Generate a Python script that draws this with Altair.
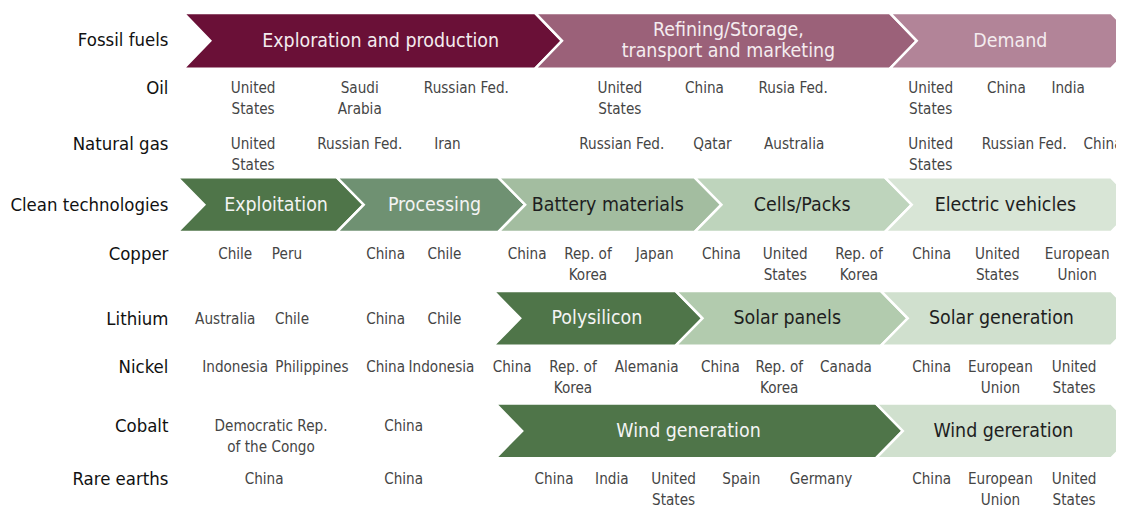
import altair as alt
import pandas as pd

# ---------------- data ----------------
row_names = ["Fossil fuels", "Oil", "Natural gas", "Clean technologies", "Copper",
             "Lithium", "Nickel", "Cobalt", "Rare earths"]
row_y = [39, 87, 144, 205, 254, 319, 367, 427, 480]

# value chains (stage names, stage boundaries along x, colours)
fossil_stages = ["Exploration and production", "Refining/Storage,\ntransport and marketing", "Demand"]
fossil_bounds = [184, 537, 893, 1115]
fossil_label_x = [382, 731, 1014]
fossil_fill = ["#6a1037", "#9b6179", "#b28498"]
fossil_text = ["#f4ecef", "#f4ecef", "#f4ecef"]

clean_stages = ["Exploitation", "Processing", "Battery materials", "Cells/Packs", "Electric vehicles"]
clean_bounds = [178, 338, 500, 697, 888, 1115]
clean_label_x = [277, 436, 610, 805, 1009]
clean_fill = ["#4f7549", "#6f9172", "#a3bda0", "#bed4bc", "#d8e5d6"]
clean_text = ["#f4f4f4", "#f4f4f4", "#1e1e1e", "#1e1e1e", "#1e1e1e"]

solar_stages = ["Polysilicon", "Solar panels", "Solar generation"]
solar_bounds = [495, 678, 884, 1115]
solar_label_x = [599, 790, 1005]
solar_fill = ["#4f7549", "#b2cbae", "#d0e0ce"]
solar_text = ["#f4f4f4", "#1e1e1e", "#1e1e1e"]

wind_stages = ["Wind generation", "Wind gereration"]
wind_bounds = [497, 879, 1115]
wind_label_x = [691, 1007]
wind_fill = ["#4f7549", "#d0e0ce"]
wind_text = ["#f4f4f4", "#1e1e1e"]

chain_bands = {"fossil": (12, 68), "clean": (177, 232), "solar": (291, 346), "wind": (404, 459)}

# leading countries per row (name, column position)
oil = [("United\nStates", 254), ("Saudi\nArabia", 361), ("Russian Fed.", 468),
       ("United\nStates", 622), ("China", 707), ("Rusia Fed.", 796),
       ("United\nStates", 934), ("China", 1010), ("India", 1072)]
gas = [("United\nStates", 254), ("Russian Fed.", 361), ("Iran", 449),
       ("Russian Fed.", 624), ("Qatar", 715), ("Australia", 797),
       ("United\nStates", 934), ("Russian Fed.", 1028), ("China", 1107)]
copper = [("Chile", 236), ("Peru", 288), ("China", 387), ("Chile", 446),
          ("China", 529), ("Rep. of\nKorea", 590), ("Japan", 657),
          ("China", 724), ("United\nStates", 788), ("Rep. of\nKorea", 862),
          ("China", 935), ("United\nStates", 1001), ("European\nUnion", 1081)]
lithium = [("Australia", 226), ("Chile", 293), ("China", 387), ("Chile", 446)]
nickel = [("Indonesia", 236), ("Philippines", 313), ("China", 387), ("Indonesia", 443),
          ("China", 514), ("Rep. of\nKorea", 575), ("Alemania", 649),
          ("China", 723), ("Rep. of\nKorea", 782), ("Canada", 849),
          ("China", 935), ("European\nUnion", 1004), ("United\nStates", 1078)]
cobalt = [("Democratic Rep.\nof the Congo", 272), ("China", 405)]
rare_earths = [("China", 265), ("China", 405), ("China", 556), ("India", 614),
               ("United\nStates", 676), ("Spain", 744), ("Germany", 824),
               ("China", 935), ("European\nUnion", 1004), ("United\nStates", 1078)]

country_rows = {"Oil": oil, "Natural gas": gas, "Copper": copper, "Lithium": lithium,
                "Nickel": nickel, "Cobalt": cobalt, "Rare earths": rare_earths}

# ---------------- build tables ----------------
W, H = 1112, 502
OFF = 8
D = 27          # chevron point depth
LINE = 21       # line spacing
FONT = "DejaVu Sans Condensed, Liberation Sans Narrow, sans-serif"

chains = {
    "fossil": (fossil_stages, fossil_bounds, fossil_label_x, fossil_fill, fossil_text),
    "clean": (clean_stages, clean_bounds, clean_label_x, clean_fill, clean_text),
    "solar": (solar_stages, solar_bounds, solar_label_x, solar_fill, solar_text),
    "wind": (wind_stages, wind_bounds, wind_label_x, wind_fill, wind_text),
}

features = []
stage_labels = []
for key, (stages, bounds, lx, fills, tcols) in chains.items():
    top, bot = chain_bands[key]
    mid = (top + bot) / 2
    for i, name in enumerate(stages):
        x0, x1 = bounds[i], bounds[i + 1]
        ring = [[x0, top], [x1, top], [x1 + D, mid], [x1, bot], [x0, bot], [x0 + D, mid], [x0, top]]
        features.append({"type": "Feature",
                         "geometry": {"type": "Polygon", "coordinates": [ring]},
                         "properties": {"fill": fills[i], "name": name}})
        lines = name.split("\n")
        for j, ln in enumerate(lines):
            stage_labels.append({"x": lx[i], "y": mid + (j - (len(lines) - 1) / 2) * 21,
                                 "t": ln, "c": tcols[i]})

row_df = pd.DataFrame({"x": [169] * len(row_names), "y": row_y, "t": row_names})

crow = []
for rname, items in country_rows.items():
    y0 = row_y[row_names.index(rname)]
    for name, x in items:
        for j, ln in enumerate(name.split("\n")):
            crow.append({"x": x, "y": y0 + j * LINE, "t": ln})
country_df = pd.DataFrame(crow)
stage_df = pd.DataFrame(stage_labels)

proj = dict(type="identity", scale=1, translate=[-OFF, -OFF])

shapes = alt.Chart(alt.Data(values=features)).mark_geoshape(
    stroke="white", strokeWidth=2.5
).encode(
    fill=alt.Fill("properties.fill:N", scale=None)
).project(**proj)

rows = alt.Chart(row_df).mark_text(
    align="right", baseline="middle", font=FONT, fontSize=18.5, color="#111111"
).encode(longitude="x:Q", latitude="y:Q", text="t:N").project(**proj)

countries = alt.Chart(country_df).mark_text(
    align="center", baseline="middle", font=FONT, fontSize=15.2, color="#454545"
).encode(longitude="x:Q", latitude="y:Q", text="t:N").project(**proj)

stages_txt = alt.Chart(stage_df).mark_text(
    align="center", baseline="middle", font=FONT, fontSize=19.5
).encode(longitude="x:Q", latitude="y:Q", text="t:N",
         color=alt.Color("c:N", scale=None)).project(**proj)

chart = alt.layer(shapes, rows, countries, stages_txt).properties(
    width=W, height=H, padding=0,
    autosize=alt.AutoSizeParams(type="none"),
    background="white",
).configure_view(stroke=None)

chart.save("out.html", embed_options={"renderer": "svg", "actions": False})
